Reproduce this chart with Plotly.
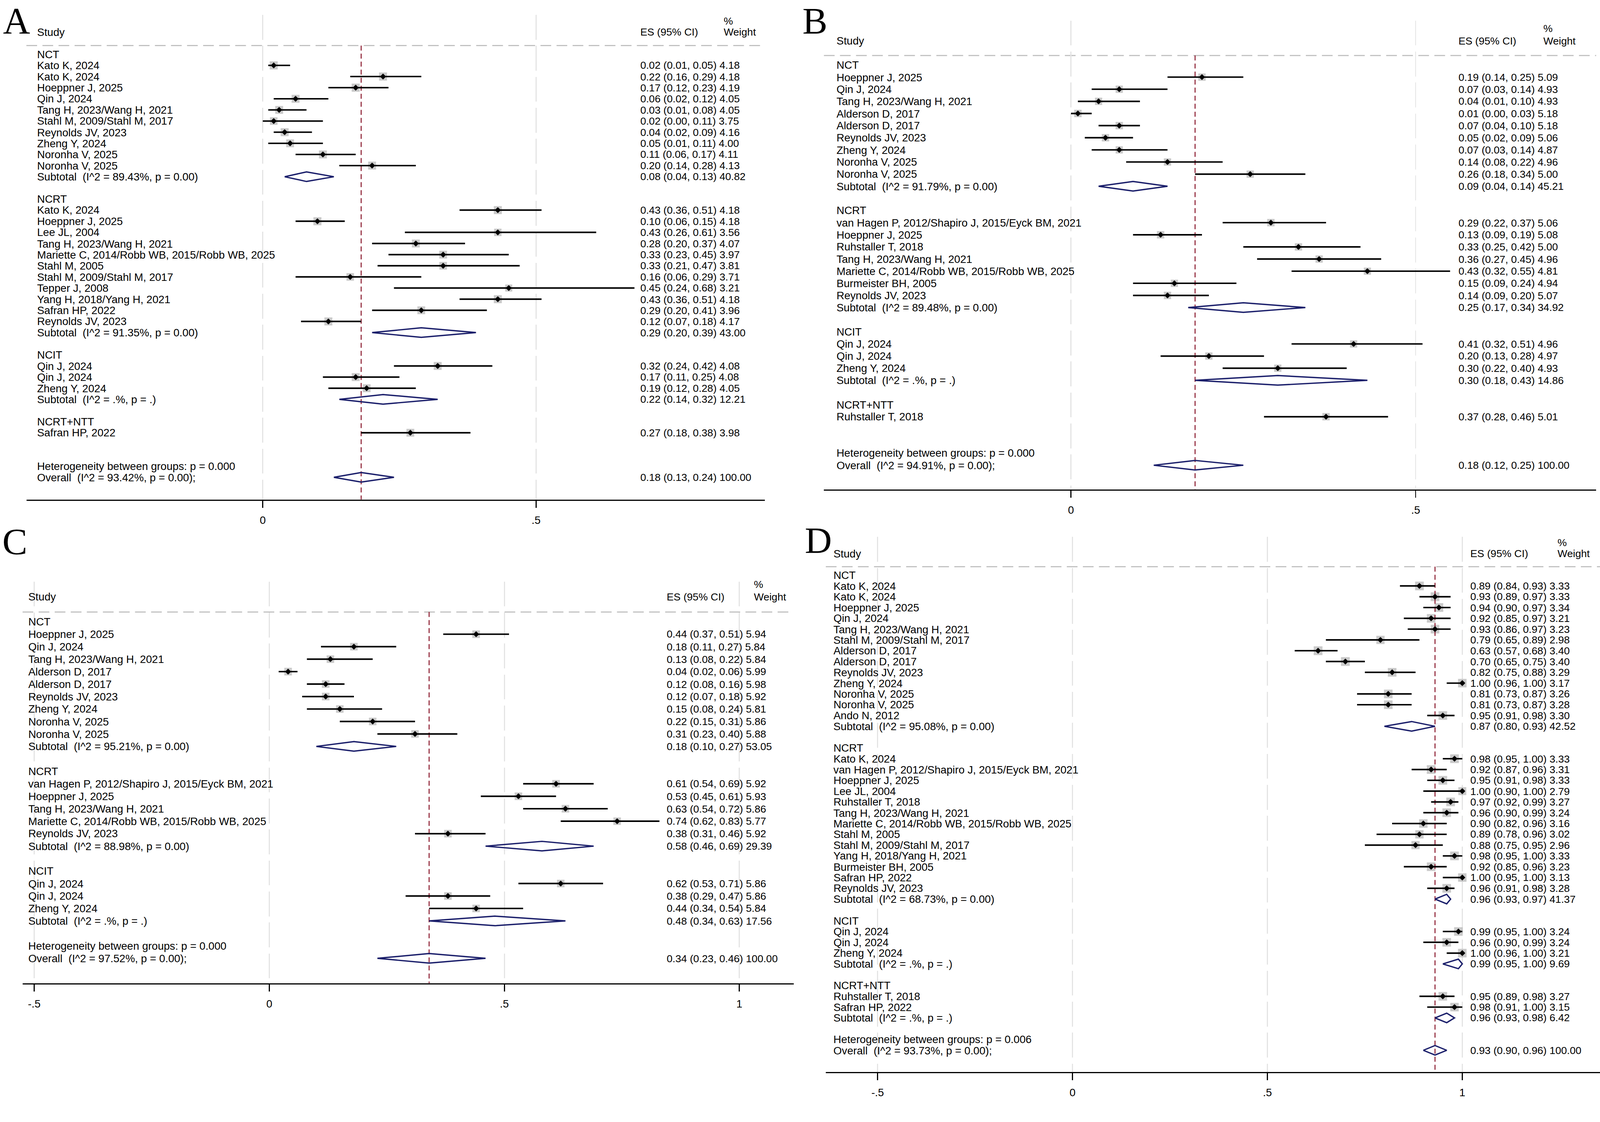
import math
import plotly.graph_objects as go

# ------------------------------------------------------------------ data A
A_GROUPS = ["NCT", "NCRT", "NCIT", "NCRT+NTT"]
A_GROUP_N = [10, 11, 3, 1]
A_STUDY = [
    "Kato K, 2024", "Kato K, 2024", "Hoeppner J, 2025", "Qin J, 2024",
    "Tang H, 2023/Wang H, 2021", "Stahl M, 2009/Stahl M, 2017", "Reynolds JV, 2023",
    "Zheng Y, 2024", "Noronha V, 2025", "Noronha V, 2025",
    "Kato K, 2024", "Hoeppner J, 2025", "Lee JL, 2004", "Tang H, 2023/Wang H, 2021",
    "Mariette C, 2014/Robb WB, 2015/Robb WB, 2025", "Stahl M, 2005",
    "Stahl M, 2009/Stahl M, 2017", "Tepper J, 2008", "Yang H, 2018/Yang H, 2021",
    "Safran HP, 2022", "Reynolds JV, 2023",
    "Qin J, 2024", "Qin J, 2024", "Zheng Y, 2024",
    "Safran HP, 2022",
]
A_ES = [0.02, 0.22, 0.17, 0.06, 0.03, 0.02, 0.04, 0.05, 0.11, 0.20,
        0.43, 0.10, 0.43, 0.28, 0.33, 0.33, 0.16, 0.45, 0.43, 0.29, 0.12,
        0.32, 0.17, 0.19,
        0.27]
A_LO = [0.01, 0.16, 0.12, 0.02, 0.01, 0.00, 0.02, 0.01, 0.06, 0.14,
        0.36, 0.06, 0.26, 0.20, 0.23, 0.21, 0.06, 0.24, 0.36, 0.20, 0.07,
        0.24, 0.11, 0.12,
        0.18]
A_HI = [0.05, 0.29, 0.23, 0.12, 0.08, 0.11, 0.09, 0.11, 0.17, 0.28,
        0.51, 0.15, 0.61, 0.37, 0.45, 0.47, 0.29, 0.68, 0.51, 0.41, 0.18,
        0.42, 0.25, 0.28,
        0.38]
A_WT = [4.18, 4.18, 4.19, 4.05, 4.05, 3.75, 4.16, 4.00, 4.11, 4.13,
        4.18, 4.18, 3.56, 4.07, 3.97, 3.81, 3.71, 3.21, 4.18, 3.96, 4.17,
        4.08, 4.08, 4.05,
        3.98]
A_SUB_ES = [0.08, 0.29, 0.22, None]
A_SUB_LO = [0.04, 0.20, 0.14, None]
A_SUB_HI = [0.13, 0.39, 0.32, None]
A_SUB_WT = [40.82, 43.00, 12.21, None]
A_SUB_I2 = ["89.43%", "91.35%", ".%", None]
A_SUB_P = ["0.00", "0.00", ".", None]
A_OVERALL = [0.18, 0.13, 0.24, 100.00]
A_OVERALL_I2 = "93.42%"
A_HET_P = "0.000"

# ------------------------------------------------------------------ data B
B_GROUPS = ["NCT", "NCRT", "NCIT", "NCRT+NTT"]
B_GROUP_N = [9, 7, 3, 1]
B_STUDY = [
    "Hoeppner J, 2025", "Qin J, 2024", "Tang H, 2023/Wang H, 2021", "Alderson D, 2017",
    "Alderson D, 2017", "Reynolds JV, 2023", "Zheng Y, 2024", "Noronha V, 2025",
    "Noronha V, 2025",
    "van Hagen P, 2012/Shapiro J, 2015/Eyck BM, 2021", "Hoeppner J, 2025",
    "Ruhstaller T, 2018", "Tang H, 2023/Wang H, 2021",
    "Mariette C, 2014/Robb WB, 2015/Robb WB, 2025", "Burmeister BH, 2005",
    "Reynolds JV, 2023",
    "Qin J, 2024", "Qin J, 2024", "Zheng Y, 2024",
    "Ruhstaller T, 2018",
]
B_ES = [0.19, 0.07, 0.04, 0.01, 0.07, 0.05, 0.07, 0.14, 0.26,
        0.29, 0.13, 0.33, 0.36, 0.43, 0.15, 0.14,
        0.41, 0.20, 0.30,
        0.37]
B_LO = [0.14, 0.03, 0.01, 0.00, 0.04, 0.02, 0.03, 0.08, 0.18,
        0.22, 0.09, 0.25, 0.27, 0.32, 0.09, 0.09,
        0.32, 0.13, 0.22,
        0.28]
B_HI = [0.25, 0.14, 0.10, 0.03, 0.10, 0.09, 0.14, 0.22, 0.34,
        0.37, 0.19, 0.42, 0.45, 0.55, 0.24, 0.20,
        0.51, 0.28, 0.40,
        0.46]
B_WT = [5.09, 4.93, 4.93, 5.18, 5.18, 5.06, 4.87, 4.96, 5.00,
        5.06, 5.08, 5.00, 4.96, 4.81, 4.94, 5.07,
        4.96, 4.97, 4.93,
        5.01]
B_SUB_ES = [0.09, 0.25, 0.30, None]
B_SUB_LO = [0.04, 0.17, 0.18, None]
B_SUB_HI = [0.14, 0.34, 0.43, None]
B_SUB_WT = [45.21, 34.92, 14.86, None]
B_SUB_I2 = ["91.79%", "89.48%", ".%", None]
B_SUB_P = ["0.00", "0.00", ".", None]
B_OVERALL = [0.18, 0.12, 0.25, 100.00]
B_OVERALL_I2 = "94.91%"
B_HET_P = "0.000"

# ------------------------------------------------------------------ data C
C_GROUPS = ["NCT", "NCRT", "NCIT"]
C_GROUP_N = [9, 5, 3]
C_STUDY = [
    "Hoeppner J, 2025", "Qin J, 2024", "Tang H, 2023/Wang H, 2021", "Alderson D, 2017",
    "Alderson D, 2017", "Reynolds JV, 2023", "Zheng Y, 2024", "Noronha V, 2025",
    "Noronha V, 2025",
    "van Hagen P, 2012/Shapiro J, 2015/Eyck BM, 2021", "Hoeppner J, 2025",
    "Tang H, 2023/Wang H, 2021", "Mariette C, 2014/Robb WB, 2015/Robb WB, 2025",
    "Reynolds JV, 2023",
    "Qin J, 2024", "Qin J, 2024", "Zheng Y, 2024",
]
C_ES = [0.44, 0.18, 0.13, 0.04, 0.12, 0.12, 0.15, 0.22, 0.31,
        0.61, 0.53, 0.63, 0.74, 0.38,
        0.62, 0.38, 0.44]
C_LO = [0.37, 0.11, 0.08, 0.02, 0.08, 0.07, 0.08, 0.15, 0.23,
        0.54, 0.45, 0.54, 0.62, 0.31,
        0.53, 0.29, 0.34]
C_HI = [0.51, 0.27, 0.22, 0.06, 0.16, 0.18, 0.24, 0.31, 0.40,
        0.69, 0.61, 0.72, 0.83, 0.46,
        0.71, 0.47, 0.54]
C_WT = [5.94, 5.84, 5.84, 5.99, 5.98, 5.92, 5.81, 5.86, 5.88,
        5.92, 5.93, 5.86, 5.77, 5.92,
        5.86, 5.86, 5.84]
C_SUB_ES = [0.18, 0.58, 0.48]
C_SUB_LO = [0.10, 0.46, 0.34]
C_SUB_HI = [0.27, 0.69, 0.63]
C_SUB_WT = [53.05, 29.39, 17.56]
C_SUB_I2 = ["95.21%", "88.98%", ".%"]
C_SUB_P = ["0.00", "0.00", "."]
C_OVERALL = [0.34, 0.23, 0.46, 100.00]
C_OVERALL_I2 = "97.52%"
C_HET_P = "0.000"

# ------------------------------------------------------------------ data D
D_GROUPS = ["NCT", "NCRT", "NCIT", "NCRT+NTT"]
D_GROUP_N = [13, 13, 3, 2]
D_STUDY = [
    "Kato K, 2024", "Kato K, 2024", "Hoeppner J, 2025", "Qin J, 2024",
    "Tang H, 2023/Wang H, 2021", "Stahl M, 2009/Stahl M, 2017", "Alderson D, 2017",
    "Alderson D, 2017", "Reynolds JV, 2023", "Zheng Y, 2024", "Noronha V, 2025",
    "Noronha V, 2025", "Ando N, 2012",
    "Kato K, 2024", "van Hagen P, 2012/Shapiro J, 2015/Eyck BM, 2021",
    "Hoeppner J, 2025", "Lee JL, 2004", "Ruhstaller T, 2018", "Tang H, 2023/Wang H, 2021",
    "Mariette C, 2014/Robb WB, 2015/Robb WB, 2025", "Stahl M, 2005",
    "Stahl M, 2009/Stahl M, 2017", "Yang H, 2018/Yang H, 2021", "Burmeister BH, 2005",
    "Safran HP, 2022", "Reynolds JV, 2023",
    "Qin J, 2024", "Qin J, 2024", "Zheng Y, 2024",
    "Ruhstaller T, 2018", "Safran HP, 2022",
]
D_ES = [0.89, 0.93, 0.94, 0.92, 0.93, 0.79, 0.63, 0.70, 0.82, 1.00, 0.81, 0.81, 0.95,
        0.98, 0.92, 0.95, 1.00, 0.97, 0.96, 0.90, 0.89, 0.88, 0.98, 0.92, 1.00, 0.96,
        0.99, 0.96, 1.00,
        0.95, 0.98]
D_LO = [0.84, 0.89, 0.90, 0.85, 0.86, 0.65, 0.57, 0.65, 0.75, 0.96, 0.73, 0.73, 0.91,
        0.95, 0.87, 0.91, 0.90, 0.92, 0.90, 0.82, 0.78, 0.75, 0.95, 0.85, 0.95, 0.91,
        0.95, 0.90, 0.96,
        0.89, 0.91]
D_HI = [0.93, 0.97, 0.97, 0.97, 0.97, 0.89, 0.68, 0.75, 0.88, 1.00, 0.87, 0.87, 0.98,
        1.00, 0.96, 0.98, 1.00, 0.99, 0.99, 0.96, 0.96, 0.95, 1.00, 0.96, 1.00, 0.98,
        1.00, 0.99, 1.00,
        0.98, 1.00]
D_WT = [3.33, 3.33, 3.34, 3.21, 3.23, 2.98, 3.40, 3.40, 3.29, 3.17, 3.26, 3.28, 3.30,
        3.33, 3.31, 3.33, 2.79, 3.27, 3.24, 3.16, 3.02, 2.96, 3.33, 3.23, 3.13, 3.28,
        3.24, 3.24, 3.21,
        3.27, 3.15]
D_SUB_ES = [0.87, 0.96, 0.99, 0.96]
D_SUB_LO = [0.80, 0.93, 0.95, 0.93]
D_SUB_HI = [0.93, 0.97, 1.00, 0.98]
D_SUB_WT = [42.52, 41.37, 9.69, 6.42]
D_SUB_I2 = ["95.08%", "68.73%", ".%", ".%"]
D_SUB_P = ["0.00", "0.00", ".", "."]
D_OVERALL = [0.93, 0.90, 0.96, 100.00]
D_OVERALL_I2 = "93.73%"
D_HET_P = "0.006"

# ------------------------------------------------------------------ style
W, H = 4183, 2872
FONT = "Liberation Sans, Arial, Helvetica, sans-serif"
TXT = 28.2      # study labels
NUM = 27.2      # ES (95% CI) + weight column
NAVY = "#1b1f6b"
MAROON = "#8b1a2e"
BOX_GRAY = "#b4b4b4"


def panel(groups, group_n, study, es, lo, hi, wt,
          sub_es, sub_lo, sub_hi, sub_wt, sub_i2, sub_p, overall, overall_i2, het_p):
    return dict(groups=groups, group_n=group_n, study=study, es=es, lo=lo, hi=hi, wt=wt,
                sub_es=sub_es, sub_lo=sub_lo, sub_hi=sub_hi, sub_wt=sub_wt,
                sub_i2=sub_i2, sub_p=sub_p, overall=overall, overall_i2=overall_i2,
                het_p=het_p)


# pixel geometry of every panel (where the stata graph sits in the picture)
GEO = {
    "A": dict(n=1, x_px=(69, 2000), zero_px=687, unit_px=1429, top_px=39, row0_px=142,
              row_px=29.13, col_study=96, col_es=1673, col_wt=1891, box=21,
              ticks=[0, 0.5], letter=(7, 41)),
    "B": dict(n=2, x_px=(2154, 4173), zero_px=2800, unit_px=1802, top_px=54, row0_px=170,
              row_px=31.74, col_study=2186, col_es=3812, col_wt=4034, box=19.5,
              ticks=[0, 0.5], letter=(2097, 39)),
    "C": dict(n=3, x_px=(59, 2075), zero_px=704, unit_px=1229, top_px=1522, row0_px=1627,
              row_px=32.62, col_study=73, col_es=1742, col_wt=1970, box=20,
              ticks=[-0.5, 0, 0.5, 1], letter=(5, 1403)),
    "D": dict(n=4, x_px=(2159, 4183), zero_px=2804, unit_px=1019, top_px=1405, row0_px=1505,
              row_px=28.26, col_study=2178, col_es=3843, col_wt=4071, box=23,
              ticks=[-0.5, 0, 0.5, 1], letter=(2103, 1400)),
}

DATA = {
    "A": panel(A_GROUPS, A_GROUP_N, A_STUDY, A_ES, A_LO, A_HI, A_WT, A_SUB_ES, A_SUB_LO,
               A_SUB_HI, A_SUB_WT, A_SUB_I2, A_SUB_P, A_OVERALL, A_OVERALL_I2, A_HET_P),
    "B": panel(B_GROUPS, B_GROUP_N, B_STUDY, B_ES, B_LO, B_HI, B_WT, B_SUB_ES, B_SUB_LO,
               B_SUB_HI, B_SUB_WT, B_SUB_I2, B_SUB_P, B_OVERALL, B_OVERALL_I2, B_HET_P),
    "C": panel(C_GROUPS, C_GROUP_N, C_STUDY, C_ES, C_LO, C_HI, C_WT, C_SUB_ES, C_SUB_LO,
               C_SUB_HI, C_SUB_WT, C_SUB_I2, C_SUB_P, C_OVERALL, C_OVERALL_I2, C_HET_P),
    "D": panel(D_GROUPS, D_GROUP_N, D_STUDY, D_ES, D_LO, D_HI, D_WT, D_SUB_ES, D_SUB_LO,
               D_SUB_HI, D_SUB_WT, D_SUB_I2, D_SUB_P, D_OVERALL, D_OVERALL_I2, D_HET_P),
}


def row_numbers(group_n):
    # header, studies, subtotal, empty row -> like stata metan
    head, study, sub = [], [], []
    r = 0
    for n in group_n:
        head.append(r)
        r += 1
        for _ in range(n):
            study.append(r)
            r += 1
        sub.append(r)
        r += 2
    return head, study, sub, r, r + 1


def ci_text(es, lo, hi, wt):
    return f"{es:.2f} ({lo:.2f}, {hi:.2f}) {wt:.2f}"


def tick_label(t):
    # stata style: .5, -.5, 0, 1
    s = f"{t:g}"
    return s.replace("0.", ".")


fig = go.Figure()
annotations = []
shapes = []


def draw_panel(key):
    d, g = DATA[key], GEO[key]
    n = g["n"]
    xa = "x" if n == 1 else f"x{n}"
    ya = "y" if n == 1 else f"y{n}"

    def val(px):
        return (px - g["zero_px"]) / g["unit_px"]

    head, srow, sub, het, ov = row_numbers(d["group_n"])
    bottom = ov + 2
    top = (g["top_px"] - g["row0_px"]) / g["row_px"]
    bottom_px = g["row0_px"] + bottom * g["row_px"]
    dash_row = -0.78

    # osi
    fig.update_layout(**{
        ("xaxis" if n == 1 else f"xaxis{n}"): dict(
            domain=[g["x_px"][0] / W, g["x_px"][1] / W],
            range=[val(g["x_px"][0]), val(g["x_px"][1])],
            anchor=ya, tickvals=g["ticks"], ticktext=[tick_label(t) for t in g["ticks"]],
            showgrid=True, gridcolor="#e4e4e4", gridwidth=3, griddash="65px,16px",
            zeroline=False, showline=True, linecolor="black", linewidth=3,
            ticks="outside", ticklen=19, tickwidth=2.5, tickcolor="black",
            ticklabelstandoff=8,
            tickfont=dict(family=FONT, size=TXT, color="black"), fixedrange=True),
        ("yaxis" if n == 1 else f"yaxis{n}"): dict(
            domain=[1 - bottom_px / H, 1 - g["top_px"] / H],
            range=[bottom, top], anchor=xa, visible=False, fixedrange=True),
    })

    # grey boxes (area ~ weight)
    wmax = max(d["wt"])
    fig.add_trace(go.Scatter(
        x=d["es"], y=srow, mode="markers", xaxis=xa, yaxis=ya, hoverinfo="skip",
        marker=dict(symbol="square", color=BOX_GRAY, line_width=0,
                    size=[g["box"] * math.sqrt(w / wmax) for w in d["wt"]])))

    # red dashed line at the overall estimate
    fig.add_trace(go.Scatter(
        x=[d["overall"][0], d["overall"][0]], y=[dash_row, bottom], mode="lines",
        xaxis=xa, yaxis=ya, hoverinfo="skip",
        line=dict(color=MAROON, width=2.6, dash="13px,8px")))

    # confidence intervals
    cx, cy = [], []
    for lo, hi, r in zip(d["lo"], d["hi"], srow):
        cx += [lo, hi, None]
        cy += [r, r, None]
    fig.add_trace(go.Scatter(x=cx, y=cy, mode="lines", xaxis=xa, yaxis=ya,
                             hoverinfo="skip", line=dict(color="black", width=4)))

    # point estimates
    fig.add_trace(go.Scatter(
        x=d["es"], y=srow, mode="markers", xaxis=xa, yaxis=ya, hoverinfo="skip",
        marker=dict(symbol="diamond", color="black", size=12, line_width=0)))

    # subtotal + overall diamonds
    h = 12.5 / g["row_px"]
    dx, dy = [], []
    pooled = list(zip(d["sub_es"], d["sub_lo"], d["sub_hi"], sub)) + \
        [(d["overall"][0], d["overall"][1], d["overall"][2], ov)]
    for es, lo, hi, r in pooled:
        if es is None:
            continue
        dx += [lo, es, hi, es, lo, None]
        dy += [r, r - h, r, r + h, r, None]
    fig.add_trace(go.Scatter(x=dx, y=dy, mode="lines", xaxis=xa, yaxis=ya,
                             hoverinfo="skip", line=dict(color=NAVY, width=3.5)))

    # dashed line under the header
    shapes.append(dict(type="line", xref=f"{xa} domain", yref=ya, x0=0, x1=1,
                       y0=dash_row, y1=dash_row, layer="below",
                       line=dict(color="#bdbdbd", width=2.7, dash="28px,14px")))

    xs, xe, xw = val(g["col_study"]), val(g["col_es"]), val(g["col_wt"])

    def txt(x, r, s, size=TXT):
        annotations.append(dict(x=x, y=r, xref=xa, yref=ya, text=s, showarrow=False,
                                xanchor="left", yanchor="middle", borderpad=0,
                                font=dict(family=FONT, size=size, color="black")))

    txt(xs, -2, "Study")
    txt(xe, -2, "ES (95% CI)", NUM)
    txt(xw, -3, "%", NUM)
    txt(xw, -2, "Weight", NUM)

    k = 0
    for gi, name in enumerate(d["groups"]):
        txt(xs, head[gi], name)
        for _ in range(d["group_n"][gi]):
            txt(xs, srow[k], d["study"][k])
            txt(xe, srow[k], ci_text(d["es"][k], d["lo"][k], d["hi"][k], d["wt"][k]), NUM)
            k += 1
        if d["sub_es"][gi] is not None:
            txt(xs, sub[gi], f"Subtotal\u00a0 (I^2 = {d['sub_i2'][gi]}, p = {d['sub_p'][gi]})")
            txt(xe, sub[gi], ci_text(d["sub_es"][gi], d["sub_lo"][gi], d["sub_hi"][gi],
                                     d["sub_wt"][gi]), NUM)
    txt(xs, het, f"Heterogeneity between groups: p = {d['het_p']}")
    txt(xs, ov, f"Overall\u00a0 (I^2 = {d['overall_i2']}, p = 0.00);")
    txt(xe, ov, ci_text(*d["overall"]), NUM)

    # panel letter (top of the text box kept inside the page)
    lx, ly = g["letter"]
    annotations.append(dict(x=lx / W, y=1 - max(ly - 41, 0) / H if ly > 100 else 1,
                            xref="paper", yref="paper", text=key,
                            showarrow=False, xanchor="left", yanchor="top", borderpad=0,
                            font=dict(family="Liberation Serif, Times New Roman, serif",
                                      size=98, color="black")))


for key in ["A", "B", "C", "D"]:
    draw_panel(key)

fig.update_layout(
    width=W, height=H, autosize=False,
    margin=dict(l=0, r=0, t=0, b=0),
    paper_bgcolor="white", plot_bgcolor="white",
    showlegend=False, hovermode=False,
    annotations=annotations, shapes=shapes,
)

# the page must show the whole 4183x2872 figure: drop the body margin and
# shrink the div if the visible area is smaller than the figure
FIT_JS = """
var gd = document.getElementById('{plot_id}');
document.body.style.margin = '0';
document.body.style.overflow = 'hidden';
var vw = document.documentElement.clientWidth || window.innerWidth;
var vh = document.documentElement.clientHeight || window.innerHeight;
var s = Math.min(vw / 4183, vh / 2872);
if (s > 0 && s < 0.999) {
    gd.style.transformOrigin = '0 0';
    gd.style.transform = 'scale(' + s + ')';
}
"""

fig.write_html("out.html", post_script=FIT_JS, config={"displayModeBar": False})
